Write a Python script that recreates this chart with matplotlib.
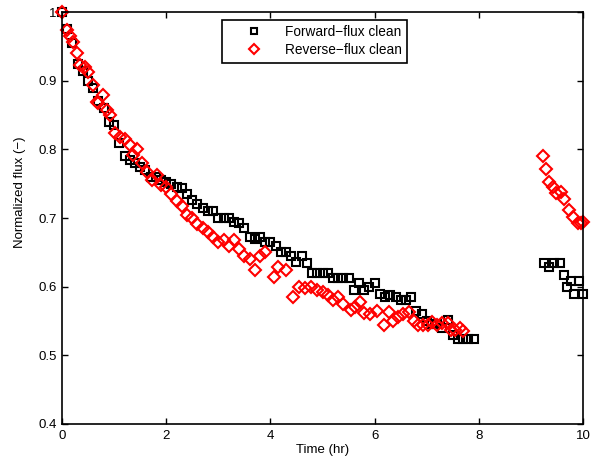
import matplotlib
matplotlib.use("Agg")
import matplotlib.pyplot as plt
from matplotlib.ticker import FuncFormatter

plt.rcParams['font.family'] = ['Liberation Sans', 'DejaVu Sans']

# forward-flux clean run (hr, normalized flux)
fwd_time = [0.0, 0.1, 0.2, 0.3, 0.4, 0.5, 0.6, 0.7, 0.8, 0.9,
            1.0, 1.1, 1.2, 1.3, 1.4, 1.5, 1.6, 1.7, 1.8, 1.9,
            2.0, 2.1, 2.2, 2.3, 2.4, 2.5, 2.6, 2.7, 2.8, 2.9,
            3.0, 3.1, 3.2, 3.3, 3.4, 3.5, 3.6, 3.7, 3.8, 3.9,
            4.0, 4.1, 4.2, 4.3, 4.4, 4.5, 4.6, 4.7, 4.8, 4.9,
            5.0, 5.1, 5.2, 5.3, 5.4, 5.5, 5.6, 5.7, 5.8, 5.9,
            6.0, 6.1, 6.2, 6.3, 6.4, 6.5, 6.6, 6.7, 6.8, 6.9,
            7.0, 7.1, 7.2, 7.3, 7.4, 7.5, 7.6, 7.7, 7.8, 7.9,
            9.25, 9.35, 9.44, 9.56, 9.64, 9.7, 9.77, 9.83, 9.92, 10.0]
fwd_flux = [1.0, 0.975, 0.955, 0.925, 0.915, 0.90, 0.89, 0.87, 0.86, 0.84,
            0.835, 0.81, 0.79, 0.785, 0.78, 0.775, 0.77, 0.76, 0.76, 0.755,
            0.752, 0.75, 0.745, 0.744, 0.735, 0.726, 0.72, 0.715, 0.71, 0.71,
            0.70, 0.70, 0.70, 0.695, 0.693, 0.685, 0.672, 0.67, 0.672, 0.665,
            0.665, 0.66, 0.65, 0.65, 0.645, 0.636, 0.645, 0.635, 0.62, 0.62,
            0.62, 0.62, 0.613, 0.613, 0.613, 0.613, 0.595, 0.605, 0.595, 0.60,
            0.605, 0.59, 0.585, 0.588, 0.585, 0.58, 0.58, 0.585, 0.565, 0.56,
            0.55, 0.545, 0.545, 0.54, 0.552, 0.53, 0.524, 0.524, 0.524, 0.524,
            0.635, 0.629, 0.635, 0.635, 0.617, 0.60, 0.608, 0.59, 0.608, 0.59]

# reverse-flux clean run (hr, normalized flux)
rev_time = [0.0, 0.09, 0.16, 0.22, 0.29, 0.35, 0.44, 0.5, 0.6, 0.67,
            0.7, 0.79, 0.87, 0.92, 1.02, 1.12, 1.2, 1.31, 1.37, 1.44,
            1.54, 1.63, 1.73, 1.83, 1.9, 2.0, 2.1, 2.2, 2.3, 2.4,
            2.5, 2.6, 2.7, 2.8, 2.9, 3.0, 3.1, 3.2, 3.3, 3.4,
            3.5, 3.6, 3.71, 3.8, 3.9, 4.06, 4.15, 4.3, 4.44, 4.55,
            4.67, 4.78, 4.9, 5.0, 5.1, 5.2, 5.3, 5.4, 5.54, 5.63,
            5.71, 5.79, 5.92, 6.05, 6.17, 6.27, 6.35, 6.44, 6.55, 6.65,
            6.75, 6.83, 6.93, 7.02, 7.1, 7.2, 7.3, 7.4, 7.46, 7.55, 7.63, 7.7,
            9.23, 9.29, 9.35, 9.42, 9.48, 9.58, 9.64, 9.73, 9.81, 9.9, 9.95, 10.0]
rev_flux = [1.0, 0.974, 0.966, 0.956, 0.94, 0.923, 0.92, 0.913, 0.894, 0.869,
            0.867, 0.879, 0.857, 0.85, 0.824, 0.818, 0.815, 0.806, 0.792, 0.80,
            0.78, 0.767, 0.755, 0.763, 0.748, 0.745, 0.735, 0.725, 0.718, 0.705,
            0.70, 0.692, 0.685, 0.68, 0.672, 0.665, 0.668, 0.66, 0.668, 0.655,
            0.645, 0.64, 0.624, 0.645, 0.65, 0.614, 0.628, 0.624, 0.585, 0.60,
            0.598, 0.60, 0.595, 0.593, 0.588, 0.58, 0.585, 0.575, 0.566, 0.571,
            0.578, 0.562, 0.56, 0.565, 0.544, 0.563, 0.55, 0.556, 0.56, 0.563,
            0.55, 0.544, 0.544, 0.544, 0.548, 0.544, 0.547, 0.547, 0.537, 0.537, 0.54, 0.535,
            0.79, 0.771, 0.752, 0.745, 0.737, 0.738, 0.728, 0.712, 0.702, 0.693, 0.693, 0.694]

fig = plt.figure(figsize=(5.92, 4.69), dpi=100)
ax = fig.add_axes([0.1047, 0.096, 0.8803, 0.878])

ax.plot(fwd_time, fwd_flux, linestyle='none', marker='s', markersize=5.8,
        markerfacecolor='none', markeredgecolor='black', markeredgewidth=1.5,
        label='Forward\u2212flux clean', clip_on=False)
ax.plot(rev_time, rev_flux, linestyle='none', marker='D', markersize=6.2,
        markerfacecolor='none', markeredgecolor='red', markeredgewidth=1.5,
        label='Reverse\u2212flux clean', clip_on=False)

ax.set_xlim(0, 10)
ax.set_ylim(0.4, 1.0)
ax.set_xticks([0, 2, 4, 6, 8, 10])
ax.set_yticks([0.4, 0.5, 0.6, 0.7, 0.8, 0.9, 1.0])
ax.yaxis.set_major_formatter(FuncFormatter(lambda v, p: '%g' % round(v, 2)))
ax.tick_params(direction='in', top=True, right=True, length=4, width=1,
               labelsize=9.5, pad=4)
for s in ax.spines.values():
    s.set_linewidth(1.2)

ax.set_xlabel('Time (hr)', fontsize=9.5, labelpad=2)
ax.set_ylabel('Normalized flux (\u2212)', fontsize=9.5)
ax.yaxis.set_label_coords(-0.069, 0.563)

leg = ax.legend(loc='upper left', bbox_to_anchor=(0.307, 0.982), fontsize=9.8,
                fancybox=False, edgecolor='black', framealpha=1,
                handlelength=3.9, handletextpad=0.3, borderpad=0.4,
                labelspacing=0.3, borderaxespad=0)
leg.get_frame().set_linewidth(1.2)
for h in leg.legend_handles:
    h.set_markersize(5)

fig.savefig('out.png', dpi=100)
